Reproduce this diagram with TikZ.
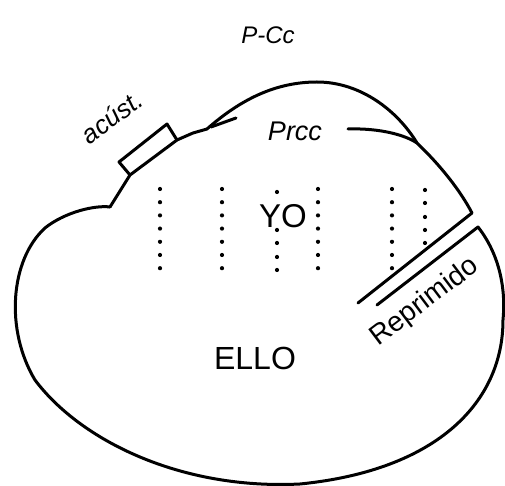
\documentclass[tikz,border=0pt]{standalone}
\usepackage{fontspec}
\setmainfont{Liberation Sans}
\usetikzlibrary{positioning}

\tikzset{
  outline/.style={line width=1.5pt,line join=round,line cap=round},
  dotmark/.style={fill=black,draw=none},
  lbl/.style={inner sep=0pt}
}

\begin{document}
\begin{tikzpicture}[x=0.5pt,y=-0.5pt]
  \useasboundingbox (0,0) rectangle (505,486);

  % outer line: notch, acoustic cap, P-Cc arc
  \draw[outline] (110,207) -- (130,175) -- (177,140) -- (193,133) -- (207,129)
    .. controls (240,100) and (275,82) .. (317,82)
    .. controls (360,82) and (397,110) .. (417,143)
    .. controls (440,165) and (460,190) .. (472,213) -- (358,303);
  \draw[outline] (211,127) -- (236,118);
  \draw[outline] (348,129) .. controls (380,128) and (405,135) .. (417,143);
  \draw[outline] (130,175) -- (119,162) -- (167,124) -- (177,140);

  % repressed strip and lower body
  \draw[outline] (377,305) -- (478,227)
    .. controls (500,255) and (506,290) .. (503,320)
    .. controls (503,400) and (440,470) .. (300,484)
    .. controls (180,490) and (80,440) .. (35,380)
    .. controls (5,330) and (10,260) .. (45,228)
    .. controls (65,212) and (95,205) .. (110,207);

  % dotted columns
  \foreach \x in {160,222,318,392} {
    \foreach \i in {0,...,6}
      \fill[dotmark] (\x,189+13.2*\i) circle[radius=2.1];
  }
  \foreach \y in {192,230,243,257,270}
    \fill[dotmark] (277,\y) circle[radius=2.1];
  \foreach \y in {190,203,217,230,243}
    \fill[dotmark] (425,\y) circle[radius=2.1];

  % labels
  \node[lbl] (pcc) at (268,35) {\fontsize{12}{14}\selectfont\itshape P-Cc};
  \node[lbl] (prcc) at (295,131) {\fontsize{13.5}{15}\selectfont\itshape Prcc};
  \node[lbl,rotate=37] (acust) at (112,117) {\fontsize{13}{15}\selectfont\itshape acúst.};
  \node[lbl] (yo) at (283,216) {\fontsize{16.5}{18}\selectfont YO};
  \node[lbl] (ello) at (255,358) {\fontsize{16}{18}\selectfont ELLO};
  \node[lbl,rotate=37] (repr) at (425,302) {\fontsize{14}{16}\selectfont Reprimido};
\end{tikzpicture}
\end{document}
